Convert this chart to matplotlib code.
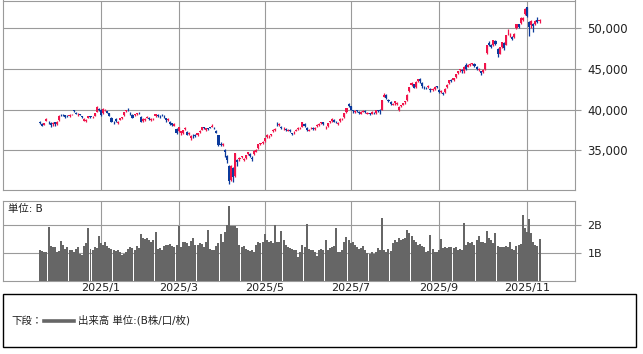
import matplotlib
matplotlib.use("Agg")
import matplotlib.pyplot as plt
from matplotlib.patches import Rectangle
from matplotlib.lines import Line2D
import numpy as np
import pandas as pd

plt.rcParams['font.family'] = ['DejaVu Sans', 'Noto Sans CJK JP']

# ---------------- data (Nikkei 225 daily, 2024/11/20 - 2025/11/12) ----------------
start_date = '2024-11-20'
end_date = '2025-11-12'
market_holidays = ['2024-12-31', '2025-01-01', '2025-01-02', '2025-01-03', '2025-01-13',
                   '2025-02-11', '2025-02-24', '2025-03-20', '2025-04-29', '2025-05-05',
                   '2025-05-06', '2025-07-21', '2025-08-11', '2025-09-15', '2025-09-23',
                   '2025-10-13', '2025-11-03']

opens = [
    38470, 38250, 38100, 38600, 38500, 38350, 38160, 38400,
    38200, 38700, 39300, 39400, 39300, 39200, 39200, 39300, 39930, 39600, 39400, 39400, 39250, 38600, 38600, 38930, 39150, 39070, 39200, 39700, 40100,
    40000, 39550, 39900, 39800, 39600, 39000, 38500, 38800, 38300, 38700, 38950, 39300, 39800, 40000, 39600, 39300, 39300, 39500, 39600,
    39100, 38600, 38700, 38950, 39000, 38700, 38900, 39200, 39350, 39200, 39300, 39200, 38900, 38700, 38500, 38300, 38000, 37600,
    37300, 37100, 37100, 37600, 37200, 37000, 36500, 36900, 36900, 36800, 37200, 37500, 37800, 37500, 37700, 37900, 37900, 37800, 37400, 36800,
    35800, 35600, 35000, 34300, 33000, 31300, 32800, 31800, 33800, 33900, 34200, 33800, 34000, 34500, 34500, 34000, 34500, 34800, 35200, 35800, 35900,
    36100, 36600, 36700, 36800, 37300, 37500, 38200, 38100, 37900, 37700, 37600, 37400, 37500, 37000, 37100, 37400, 37600, 37700, 37900, 38200,
    37700, 37400, 37700, 37700, 37600, 38000, 38100, 38300, 38400, 37800, 38000, 38400, 38600, 38700, 38500, 38200, 38600, 38900, 39100, 39700, 40700,
    40400, 39900, 39700, 39900, 39700, 39500, 39700, 39800, 39500, 39500, 39500, 39700, 39600, 39900, 40000, 40000, 41600, 41800, 41200, 40900, 40600, 40800,
    40700, 39900, 40400, 40600, 40900, 41200, 42300, 43000, 43100, 42800, 43500, 43800, 43300, 42700, 42700, 42800, 42500, 42400, 42500, 42900,
    42400, 42200, 42100, 42200, 42800, 43300, 43700, 43600, 44000, 44500, 44900, 44900, 44800, 45500, 45300, 45500, 45600, 45600, 45200, 44900,
    44700, 44600, 45000, 47000, 48200, 48000, 47900, 48500, 47500, 46900, 47700, 48200, 48000, 49300, 49300, 49000, 48900, 50000, 50500, 50700, 51000, 51800,
    52600, 50800, 50400, 50600, 50600, 51000, 50900,
]
highs = [
    38530, 38340, 38390, 38950, 38580, 38440, 38430, 38460,
    38560, 39300, 39430, 39490, 39360, 39330, 39430, 39450, 40000, 39700, 39530, 39460, 39260, 38930, 38820, 39200, 39240, 39170, 39600, 40400, 40150,
    40060, 40140, 40080, 39830, 39620, 39050, 38600, 38900, 38600, 39000, 39100, 39700, 40000, 40200, 39700, 39400, 39500, 39600, 39700,
    39200, 38900, 38900, 39150, 39100, 38900, 39000, 39500, 39400, 39300, 39400, 39300, 38950, 38900, 38550, 38350, 38300, 37700,
    37850, 37400, 37500, 37900, 37300, 37250, 36900, 36950, 37000, 37100, 37450, 37900, 37900, 37700, 37750, 37900, 38200, 37900, 37500, 36900,
    36000, 35850, 35100, 34400, 33200, 33200, 32900, 34639, 33900, 34100, 34300, 34000, 34400, 34800, 34600, 34300, 35000, 35100, 35800, 35900, 36100,
    36500, 37000, 36900, 37000, 37600, 37700, 38500, 38300, 38000, 37900, 37700, 37600, 37600, 37100, 37300, 37600, 37800, 37800, 38500, 38300,
    37800, 37600, 37800, 37800, 37800, 38200, 38300, 38500, 38450, 38000, 38350, 38600, 38900, 38800, 38600, 38450, 38900, 39000, 39600, 40200, 40850,
    40450, 40000, 39900, 40000, 39800, 39800, 39900, 39900, 39700, 39600, 39800, 39750, 40000, 40000, 40100, 41200, 42000, 41900, 41300, 41000, 40800, 41100,
    40900, 40400, 40600, 40850, 41100, 41900, 42800, 43400, 43200, 43500, 43800, 43900, 43400, 42900, 42800, 43000, 42600, 42600, 42900, 42950,
    42500, 42400, 42200, 42600, 43100, 43700, 43800, 43900, 44400, 44800, 45000, 45000, 45400, 45800, 45600, 45700, 45800, 45700, 45400, 45100,
    44800, 45000, 45800, 48000, 48500, 48100, 48600, 48600, 47600, 47700, 48300, 48300, 49200, 49900, 49400, 49100, 49400, 50600, 50600, 51400, 51400, 52500,
    52636, 50900, 51000, 50700, 51000, 51400, 51200,
]
lows = [
    38250, 37910, 38030, 38560, 38270, 37800, 37970, 38000,
    38080, 38620, 39150, 39220, 38980, 39050, 39110, 39280, 39700, 39390, 39250, 39300, 38980, 38580, 38480, 38900, 38990, 39010, 39140, 39680, 39800,
    39250, 39500, 39860, 39550, 39150, 38400, 38250, 38500, 38220, 38650, 38800, 39250, 39700, 39800, 39300, 38900, 39200, 39300, 39400,
    38400, 38500, 38600, 38900, 38700, 38600, 38700, 39100, 39050, 39000, 39150, 39000, 38500, 38600, 38100, 38000, 37950, 37000,
    37200, 36900, 36950, 37500, 36800, 36900, 36200, 36500, 36600, 36700, 37150, 37450, 37600, 37400, 37500, 37700, 37800, 37650, 37100, 35550,
    35500, 35450, 34100, 33400, 30792, 31200, 31064, 31700, 33000, 33700, 34000, 33600, 33900, 34400, 34200, 33700, 34400, 34700, 35150, 35600, 35800,
    36000, 36500, 36500, 36700, 37200, 37400, 38000, 37950, 37600, 37500, 37300, 37300, 37200, 36850, 37000, 37300, 37500, 37600, 37850, 37900,
    37400, 37300, 37600, 37500, 37500, 37900, 38000, 38200, 38100, 37550, 37900, 38300, 38500, 38450, 38300, 38100, 38500, 38700, 39000, 39600, 40300,
    39900, 39600, 39600, 39700, 39500, 39400, 39650, 39600, 39400, 39300, 39450, 39500, 39500, 39700, 39500, 39950, 41500, 41300, 40900, 40600, 40500, 40600,
    40500, 39850, 40300, 40500, 40700, 41100, 42200, 42900, 42600, 42700, 43400, 43300, 42700, 42500, 42500, 42700, 42200, 42300, 42450, 42600,
    42100, 42100, 41800, 42100, 42700, 43200, 43400, 43500, 43900, 44400, 44600, 44500, 44500, 44900, 45200, 45400, 45500, 45300, 44900, 44700,
    44300, 44500, 44900, 46900, 47800, 47600, 47800, 48000, 46500, 46800, 47600, 47300, 47900, 49200, 49000, 48600, 48800, 49900, 50000, 50600, 50900, 51700,
    51400, 49074, 50100, 49600, 50400, 50700, 50700,
]
closes = [
    38352, 38026, 38283, 38780, 38442, 38134, 38349, 38208,
    38513, 39248, 39276, 39395, 39091, 39160, 39367, 39372, 39849, 39470, 39457, 39364, 39081, 38813, 38701, 39161, 39036, 39130, 39568, 40281, 39894,
    39307, 40083, 39981, 39605, 39190, 38474, 38444, 38572, 38451, 38902, 39027, 39646, 39958, 39931, 39565, 39016, 39414, 39513, 39572,
    38520, 38798, 38831, 39066, 38787, 38801, 38963, 39461, 39149, 39174, 39270, 39164, 38678, 38776, 38237, 38142, 38256, 37155,
    37785, 37331, 37418, 37704, 36887, 37028, 36793, 36819, 36790, 37053, 37396, 37845, 37751, 37677, 37608, 37780, 38027, 37799, 37120, 35617,
    35624, 35725, 34735, 33780, 31136, 33012, 31714, 34609, 33585, 33982, 34267, 33920, 34377, 34730, 34280, 33861, 34868, 35039, 35705, 35839, 36045,
    36452, 36831, 36780, 36928, 37503, 37644, 38183, 38128, 37755, 37753, 37498, 37529, 37299, 36985, 37160, 37532, 37724, 37722, 38432, 37965,
    37470, 37446, 37747, 37554, 37741, 38088, 38211, 38421, 38173, 37834, 38311, 38536, 38885, 38488, 38403, 38354, 38790, 38942, 39584, 40150, 40487,
    39986, 39762, 39785, 39810, 39587, 39688, 39821, 39646, 39569, 39459, 39678, 39663, 39901, 39819, 39774, 41171, 41826, 41456, 40998, 40674, 40654, 41069,
    40799, 40290, 40549, 40794, 41059, 41820, 42718, 43274, 42649, 43378, 43714, 43546, 42888, 42610, 42633, 42807, 42394, 42520, 42828, 42718,
    42188, 42310, 41938, 42580, 43018, 43643, 43459, 43837, 44372, 44768, 44902, 44790, 45303, 45045, 45493, 45630, 45754, 45354, 45043, 44932,
    44550, 44936, 45769, 47944, 47950, 47734, 48580, 48088, 46847, 47672, 48277, 47582, 49185, 49316, 49307, 48641, 49299, 50512, 50219, 51307, 51325, 52411,
    51497, 50212, 50883, 50276, 50911, 50842, 51063,
]
volumes_b = [
    1.10, 1.08, 1.05, 1.02, 1.94, 1.25, 1.22, 1.20, 1.05, 1.08,
    1.43, 1.30, 1.15, 1.20, 1.10, 1.12, 1.05, 1.15, 1.22, 0.98,
    0.92, 1.25, 1.35, 1.88, 1.15, 1.12, 1.20, 1.18, 1.62, 1.35,
    1.30, 1.40, 1.25, 1.18, 1.15, 1.10, 1.08, 1.12, 1.02, 0.92,
    0.95, 1.05, 1.15, 1.20, 1.18, 1.10, 1.25, 1.18, 1.68, 1.55,
    1.50, 1.52, 1.48, 1.40, 1.45, 1.75, 1.15, 1.18, 1.12, 1.25,
    1.30, 1.28, 1.33, 1.25, 1.22, 1.30, 1.95, 1.20, 1.40, 1.38,
    1.35, 1.25, 1.42, 1.55, 1.30, 1.28, 1.35, 1.32, 1.20, 1.38,
    1.84, 1.15, 1.10, 1.12, 1.25, 1.35, 1.68, 1.40, 1.75, 1.99,
    2.68, 1.98, 1.95, 1.95, 1.90, 1.30, 1.22, 1.25, 1.15, 1.10,
    1.08, 1.12, 1.05, 1.30, 1.38, 1.37, 1.40, 1.68, 1.45, 1.38,
    1.42, 1.35, 2.00, 1.40, 1.38, 1.80, 1.45, 1.30, 1.20, 1.18,
    1.15, 1.10, 1.12, 0.86, 1.05, 1.30, 1.20, 2.05, 1.15, 1.10,
    1.12, 1.05, 0.88, 1.10, 1.15, 1.10, 1.47, 1.12, 1.18, 1.20,
    1.25, 1.88, 1.05, 1.02, 1.10, 1.38, 1.57, 1.45, 1.35, 1.38,
    1.30, 1.22, 1.15, 1.18, 1.25, 1.10, 1.00, 0.98, 1.02, 0.95,
    1.05, 1.18, 1.12, 2.24, 1.10, 1.02, 1.15, 1.08, 1.35, 1.45,
    1.40, 1.53, 1.45, 1.50, 1.55, 1.84, 1.70, 1.60, 1.45, 1.38,
    1.30, 1.32, 1.25, 1.20, 1.05, 1.08, 1.66, 1.15, 1.05, 1.02,
    1.10, 1.50, 1.18, 1.20, 1.18, 1.22, 1.20, 1.17, 1.22, 1.12,
    1.15, 1.12, 2.08, 1.30, 1.38, 1.35, 1.40, 1.30, 1.45, 1.60,
    1.40, 1.38, 1.35, 1.80, 1.55, 1.45, 1.35, 1.72, 1.25, 1.22,
    1.22, 1.20, 1.25, 1.20, 1.40, 1.15, 1.12, 1.25, 1.30, 1.32,
    2.36, 1.90, 1.75, 2.20, 1.70, 1.40, 1.30, 1.25, 1.50,
]
price_ticks = [35000, 40000, 45000, 50000]
volume_ticks = [1, 2]
volume_tick_labels = ['1B', '2B']
tick_months = [1, 3, 5, 7, 9, 11]
volume_unit_label = '単位: B'
legend_prefix = '下段：'
legend_label = '出来高 単位:(B株/口/枚)'

# ---------------- derived ----------------
dates = pd.bdate_range(start_date, end_date, freq='C', holidays=market_holidays)
n = len(dates)
for name, arr in [('opens', opens), ('highs', highs), ('lows', lows), ('closes', closes), ('volumes', volumes_b)]:
    if len(arr) != n:
        raise SystemExit(f'{name} has {len(arr)} values, expected {n}')

x = np.arange(n)
o = np.array(opens, float); h = np.array(highs, float)
l = np.array(lows, float); c = np.array(closes, float)
vol = np.array(volumes_b, float)

month_pos, month_lab = [], []
for i in range(1, n):
    if dates[i].month != dates[i - 1].month and dates[i].year == 2025 and dates[i].month in tick_months:
        month_pos.append(i)
        month_lab.append(f'{dates[i].year}/{dates[i].month}')

UP = '#f0144b'
DOWN = '#0b3a9c'
GRID = '#9a9a9a'
colors = np.where(c >= o, UP, DOWN)

W, H = 643, 354
fig = plt.figure(figsize=(W / 100, H / 100), dpi=100)


def frac(x0, y0, x1, y1):
    return [x0 / W, 1 - y1 / H, (x1 - x0) / W, (y1 - y0) / H]


ax1 = fig.add_axes(frac(3, 0.5, 575, 190.3))
ax2 = fig.add_axes(frac(3, 201, 575, 281))

xlim = (-17.7, 254.9)

# price panel
body_bottom = np.minimum(o, c)
body_h = np.maximum(np.abs(c - o), 60)
ax1.vlines(x, np.minimum(l, body_bottom), np.maximum(h, np.maximum(o, c)), colors=colors, linewidth=0.9, zorder=3)
ax1.bar(x, body_h, bottom=body_bottom, width=1.0, color=colors, linewidth=0, zorder=3)
ax1.set_xlim(*xlim)
ax1.set_ylim(30035, 53450)
ax1.set_yticks(price_ticks)
ax1.set_yticklabels([f'{v:,}' for v in price_ticks])
ax1.yaxis.tick_right()
ax1.set_xticks(month_pos)
ax1.set_xticklabels([])
ax1.tick_params(axis='x', length=0)
ax1.tick_params(axis='y', length=4, width=0.8, color=GRID, labelsize=8.5, labelcolor='#222222', pad=5)
ax1.grid(True, color=GRID, linewidth=0.8, zorder=0)
ax1.set_axisbelow(True)
for s in ax1.spines.values():
    s.set_color(GRID)
    s.set_linewidth(0.8)

# volume panel
ax2.bar(x, vol, width=0.95, color='#666666', linewidth=0, zorder=3)
ax2.set_xlim(*xlim)
ax2.set_ylim(0, 2.86)
ax2.set_yticks(volume_ticks)
ax2.set_yticklabels(volume_tick_labels)
ax2.yaxis.tick_right()
ax2.set_xticks(month_pos)
ax2.set_xticklabels(month_lab)
ax2.tick_params(axis='x', length=0, labelsize=8, labelcolor='#222222', pad=1.5)
ax2.tick_params(axis='y', length=4, width=0.8, color=GRID, labelsize=8, labelcolor='#222222', pad=5)
ax2.grid(True, color=GRID, linewidth=0.8, zorder=0)
ax2.set_axisbelow(True)
for s in ax2.spines.values():
    s.set_color(GRID)
    s.set_linewidth(0.8)
ax2.text(5 / 572, 0.90, volume_unit_label, transform=ax2.transAxes, fontsize=7.5,
         color='#222222', va='center', ha='left')

# legend box
fig.patches.append(Rectangle((3 / W, 1 - 347 / H), 633 / W, 53 / H, transform=fig.transFigure,
                             fill=False, edgecolor='black', linewidth=1.0))
ly = 1 - 320.5 / H
fig.text(11 / W, ly, legend_prefix, fontsize=7.5, va='center', ha='left', color='#222222')
fig.lines.append(Line2D([44 / W, 74 / W], [ly, ly], transform=fig.transFigure, color='#666666', linewidth=2.6))
fig.text(78 / W, ly, legend_label, fontsize=7.5, va='center', ha='left', color='#222222')

fig.savefig('out.png', dpi=100)
